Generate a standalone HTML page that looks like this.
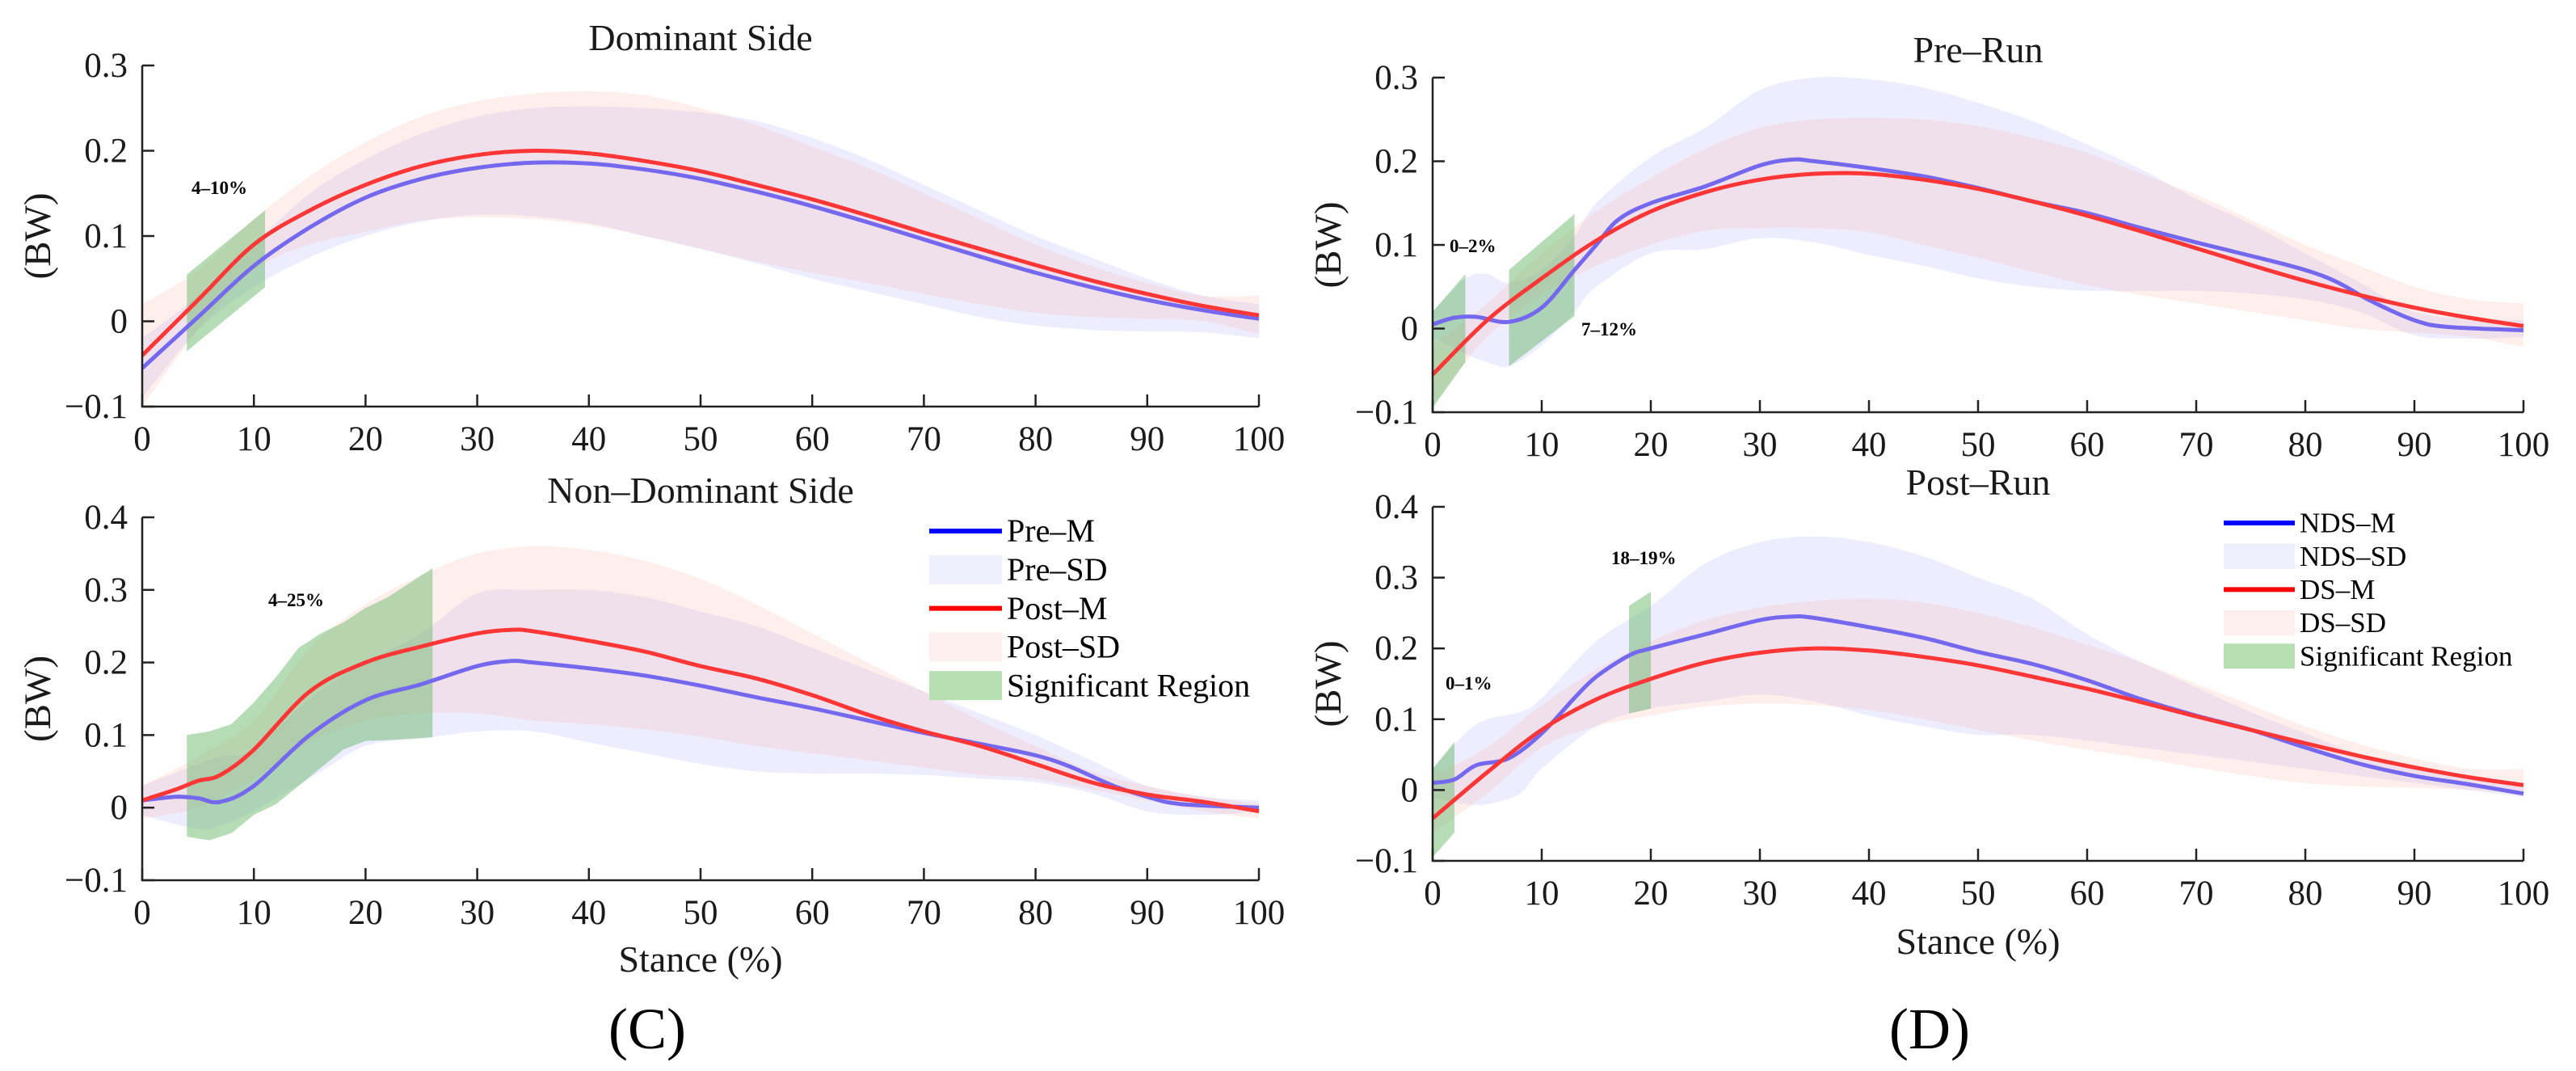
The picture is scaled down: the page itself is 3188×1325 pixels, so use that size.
<!DOCTYPE html>
<html><head><meta charset="utf-8"><style>
html,body{margin:0;padding:0;background:#fff;overflow:hidden;}
svg{display:block;font-family:"Liberation Serif",serif;}
svg text{font-family:"Liberation Serif",serif;}
</style></head><body>
<svg id="fig" width="3188" height="1325" viewBox="0 0 3188 1325" font-family="Liberation Serif, serif"></svg>
<script>
// ---------- shared ----------
const xTicks=[0,10,20,30,40,50,60,70,80,90,100];
const xTickLabels=["0","10","20","30","40","50","60","70","80","90","100"];
const yTicks3=[-0.1,0,0.1,0.2,0.3];
const yTickLabels3=["\u22120.1","0","0.1","0.2","0.3"];
const yTicks4=[-0.1,0,0.1,0.2,0.3,0.4];
const yTickLabels4=["\u22120.1","0","0.1","0.2","0.3","0.4"];

// ---------- C top: Dominant Side ----------
const cT_preX=[0,5,10,15,20,25,30,35,40,45,50,55,60,65,70,75,80,85,90,95,100];
const cT_preM=[-0.055,0.005,0.065,0.11,0.145,0.167,0.18,0.186,0.185,0.178,0.167,0.152,0.135,0.116,0.096,0.076,0.057,0.04,0.025,0.013,0.003];
const cT_postM=[-0.04,0.025,0.09,0.13,0.16,0.182,0.195,0.2,0.197,0.188,0.176,0.16,0.143,0.124,0.104,0.085,0.066,0.048,0.032,0.018,0.007];
const cT_preLo=[-0.09,-0.01,0.04,0.075,0.1,0.117,0.125,0.123,0.115,0.1,0.085,0.068,0.05,0.035,0.02,0.005,-0.005,-0.01,-0.012,-0.013,-0.02];
const cT_preHi=[-0.02,0.03,0.09,0.15,0.19,0.22,0.24,0.25,0.252,0.25,0.245,0.235,0.215,0.19,0.16,0.13,0.1,0.075,0.05,0.03,0.02];
const cT_postLo=[-0.1,-0.01,0.06,0.09,0.105,0.118,0.122,0.12,0.113,0.1,0.085,0.07,0.057,0.045,0.032,0.02,0.01,0.005,0.003,0,-0.015];
const cT_postHi=[0.02,0.06,0.12,0.17,0.21,0.24,0.258,0.267,0.27,0.265,0.25,0.23,0.205,0.18,0.15,0.12,0.09,0.065,0.045,0.03,0.03];
const cT_sigX=[[4,11]];const cT_sigLo=[[-0.035,0.04]];const cT_sigHi=[[0.055,0.13]];

// ---------- C bottom: Non-Dominant Side ----------
const cB_preX=[0,3,5,7,10,15,20,25,30,33,35,40,45,50,55,60,65,70,75,80,83,87,90,93,100];
const cB_preM=[0.01,0.015,0.013,0.008,0.03,0.1,0.148,0.17,0.195,0.202,0.2,0.192,0.182,0.168,0.152,0.137,0.12,0.103,0.088,0.072,0.057,0.03,0.015,0.005,0];
const cB_postX=[0,3,5,7,10,15,20,25,30,33,35,40,45,50,55,60,65,70,75,80,85,90,95,100];
const cB_postM=[0.01,0.025,0.037,0.045,0.08,0.16,0.2,0.222,0.24,0.245,0.243,0.23,0.215,0.195,0.178,0.155,0.128,0.105,0.085,0.06,0.035,0.018,0.008,-0.005];
const cB_preBX=[0,5,7,10,15,20,25,30,35,40,45,50,55,60,65,70,75,80,85,90,95,100];
const cB_preLo=[-0.01,-0.03,-0.025,-0.005,0.04,0.085,0.095,0.105,0.105,0.09,0.075,0.06,0.05,0.047,0.047,0.045,0.04,0.035,0.02,-0.005,-0.01,-0.005];
const cB_preHi=[0.03,0.06,0.07,0.08,0.15,0.2,0.24,0.295,0.3,0.3,0.29,0.27,0.25,0.22,0.19,0.16,0.13,0.1,0.065,0.03,0.015,0.01];
const cB_postBX=[0,5,10,15,20,25,30,35,40,45,50,55,60,65,70,75,80,85,90,95,100];
const cB_postLo=[-0.015,0,0.04,0.09,0.12,0.13,0.13,0.12,0.115,0.108,0.098,0.085,0.075,0.065,0.055,0.045,0.04,0.025,0.01,-0.005,-0.015];
const cB_postHi=[0.03,0.07,0.12,0.22,0.28,0.32,0.35,0.36,0.355,0.34,0.315,0.28,0.24,0.2,0.16,0.12,0.085,0.05,0.03,0.015,0.005];
const cB_sigX=[[4,6,8,10,12,14,16,18,20,22,24,26]];
const cB_sigHi=[[0.1,0.105,0.115,0.145,0.18,0.22,0.24,0.255,0.275,0.29,0.31,0.33]];
const cB_sigLo=[[-0.04,-0.045,-0.035,-0.01,0.005,0.03,0.055,0.08,0.092,0.093,0.095,0.097]];

// ---------- D top: Pre-Run ----------
const dT_ndsX=[0,2,4,7,10,13,15,17,20,25,30,33,35,40,45,50,55,60,65,70,75,80,83,86,90,93,100];
const dT_ndsM=[0.005,0.013,0.014,0.008,0.025,0.07,0.1,0.13,0.15,0.17,0.195,0.202,0.2,0.192,0.182,0.168,0.152,0.138,0.12,0.103,0.087,0.07,0.055,0.033,0.01,0.002,-0.002];
const dT_dsX=[0,5,10,15,20,25,30,35,40,45,50,55,60,65,70,75,80,85,90,95,100];
const dT_dsM=[-0.055,0.01,0.06,0.105,0.14,0.163,0.178,0.185,0.185,0.178,0.167,0.152,0.135,0.116,0.096,0.076,0.057,0.04,0.025,0.013,0.003];
const dT_ndsBX=[0,3,5,7,10,13,15,20,25,30,35,40,45,50,55,60,65,70,75,80,85,90,95,100];
const dT_ndsLo=[-0.01,-0.03,-0.04,-0.045,-0.02,0.02,0.05,0.09,0.095,0.108,0.103,0.088,0.075,0.06,0.05,0.045,0.045,0.045,0.042,0.035,0.02,-0.008,-0.012,-0.01];
const dT_ndsHi=[0.02,0.06,0.065,0.055,0.07,0.11,0.15,0.205,0.24,0.285,0.3,0.298,0.288,0.27,0.248,0.22,0.19,0.155,0.125,0.09,0.055,0.02,0.012,0.01];
const dT_dsLo=[-0.09,-0.01,0.04,0.075,0.1,0.117,0.12,0.12,0.115,0.1,0.085,0.068,0.052,0.04,0.03,0.02,0.01,0,-0.005,-0.01,-0.022];
const dT_dsHi=[-0.02,0.03,0.09,0.14,0.18,0.215,0.24,0.25,0.252,0.25,0.242,0.228,0.21,0.185,0.16,0.13,0.1,0.075,0.05,0.035,0.03];
const dT_sigX=[[0,3],[7,13]];const dT_sigLo=[[-0.095,-0.04],[-0.045,0.015]];const dT_sigHi=[[0.02,0.065],[0.07,0.137]];

// ---------- D bottom: Post-Run ----------
const dB_ndsX=[0,2,4,7,10,13,15,18,20,25,30,33,35,40,45,50,55,60,65,70,75,80,85,90,95,100];
const dB_ndsM=[0.01,0.015,0.035,0.045,0.08,0.13,0.16,0.19,0.2,0.22,0.24,0.245,0.243,0.23,0.215,0.195,0.178,0.155,0.128,0.105,0.085,0.06,0.037,0.02,0.008,-0.005];
const dB_dsX=[0,5,10,15,20,25,30,35,40,45,50,55,60,65,70,75,80,85,90,95,100];
const dB_dsM=[-0.04,0.025,0.085,0.128,0.157,0.18,0.194,0.2,0.197,0.188,0.176,0.16,0.143,0.124,0.104,0.085,0.066,0.048,0.032,0.018,0.007];
const dB_ndsBX=[0,3,5,8,10,15,20,25,30,35,40,45,50,55,60,65,70,75,80,85,90,95,100];
const dB_ndsLo=[-0.01,-0.02,-0.02,-0.005,0.03,0.09,0.115,0.125,0.135,0.125,0.105,0.09,0.078,0.078,0.07,0.06,0.05,0.04,0.03,0.02,0.01,0,-0.01];
const dB_ndsHi=[0.03,0.08,0.1,0.11,0.13,0.21,0.26,0.32,0.35,0.358,0.35,0.33,0.3,0.27,0.22,0.18,0.145,0.11,0.08,0.05,0.03,0.015,0.005];
const dB_dsLo=[-0.06,-0.005,0.06,0.09,0.105,0.118,0.122,0.12,0.113,0.1,0.085,0.07,0.057,0.045,0.032,0.02,0.01,0.005,0.003,0,-0.005];
const dB_dsHi=[0.02,0.06,0.12,0.17,0.21,0.24,0.258,0.267,0.27,0.265,0.25,0.23,0.205,0.18,0.15,0.12,0.09,0.065,0.045,0.03,0.03];
const dB_sigX=[[0,2],[18,20]];const dB_sigLo=[[-0.095,-0.06],[0.108,0.115]];const dB_sigHi=[[0.03,0.068],[0.26,0.28]];

const NS="http://www.w3.org/2000/svg";
const svg=document.getElementById('fig');
function mk(tag,attrs,parent){const e=document.createElementNS(NS,tag);for(const k in attrs)e.setAttribute(k,attrs[k]);(parent||svg).appendChild(e);return e;}
function smooth(pts){let d="M"+pts[0][0].toFixed(1)+","+pts[0][1].toFixed(1);
 for(let i=0;i<pts.length-1;i++){const p0=pts[i-1]||pts[i],p1=pts[i],p2=pts[i+1],p3=pts[i+2]||p2;
  const c1=[p1[0]+(p2[0]-p0[0])/6,p1[1]+(p2[1]-p0[1])/6],c2=[p2[0]-(p3[0]-p1[0])/6,p2[1]-(p3[1]-p1[1])/6];
  d+="C"+c1[0].toFixed(1)+","+c1[1].toFixed(1)+" "+c2[0].toFixed(1)+","+c2[1].toFixed(1)+" "+p2[0].toFixed(1)+","+p2[1].toFixed(1);}
 return d;}
function text(str,x,y,size,opts,parent){opts=opts||{};const t=mk('text',{x:0,y:0,'font-family':'Liberation Serif, serif','font-size':size,'text-anchor':opts.anchor||'middle','font-weight':opts.bold?'bold':'normal',fill:opts.fill||'#1a1a1a',transform:`translate(${x},${y})`+(opts.rot?` rotate(${opts.rot})`:'')},parent);t.textContent=str;return t;}

const BLUEBAND='rgba(175,175,255,0.22)',REDBAND='rgba(250,185,175,0.24)',GREEN='rgba(110,185,110,0.5)';
const BLUELINE='#7468ee',REDLINE='#ff3636';

function panel(cfg){
 const g=mk('g',{});
 
 
 const X=v=>cfg.x0+(v-0)/100*(cfg.x1-cfg.x0);
 const Y=v=>cfg.y1-(v-(-0.1))/(cfg.ymax+0.1)*(cfg.y1-cfg.y0);
 function band(xs,lo,hi,fill,name){const up=xs.map((x,i)=>[X(x),Y(hi[i])]),dn=xs.map((x,i)=>[X(x),Y(lo[i])]).reverse();
  const d=smooth(up)+"L"+dn[0][0]+","+dn[0][1]+smooth(dn).slice(1).replace(/^[^C]*/,'')+"Z";
  const p=mk('path',{d:d,fill:fill,stroke:'none'},g);}
 band(cfg.aX,cfg.aLo,cfg.aHi,BLUEBAND,'blue-sd-band');
 band(cfg.bX,cfg.bLo,cfg.bHi,REDBAND,'red-sd-band');
 cfg.sigX.forEach((xs,k)=>{const up=xs.map((x,i)=>[X(x),Y(cfg.sigHi[k][i])]),dn=xs.map((x,i)=>[X(x),Y(cfg.sigLo[k][i])]).reverse();
  const pts=up.concat(dn);const p=mk('polygon',{points:pts.map(q=>q.join(',')).join(' '),fill:GREEN},g);
  });
 const lb=mk('path',{d:smooth(cfg.mAX.map((x,i)=>[X(x),Y(cfg.mA[i])])),fill:'none',stroke:BLUELINE,'stroke-width':5,'stroke-linejoin':'round'},g);
 
 const lr=mk('path',{d:smooth(cfg.mBX.map((x,i)=>[X(x),Y(cfg.mB[i])])),fill:'none',stroke:REDLINE,'stroke-width':5,'stroke-linejoin':'round'},g);
 
 const ax=mk('path',{d:`M${cfg.x0},${cfg.y0}V${cfg.y1}H${cfg.x1}`,fill:'none',stroke:'#222','stroke-width':2.5},g);
 
 xTicks.forEach((v,i)=>{mk('line',{x1:X(v),x2:X(v),y1:cfg.y1,y2:cfg.y1-15,stroke:'#222','stroke-width':2.5},g);
  const t=text(xTickLabels[i],X(v),cfg.y1+54,43,{},g);});
 cfg.yt.forEach((v,i)=>{mk('line',{x1:cfg.x0,x2:cfg.x0+15,y1:Y(v),y2:Y(v),stroke:'#222','stroke-width':2.5},g);
  const t=text(cfg.ytl[i],cfg.x0-18,Y(v)+14,43,{anchor:'end'},g);});
 const yt=text('(BW)',cfg.x0-114,(cfg.y0+cfg.y1)/2,47,{rot:-90},g);
 const tt=text(cfg.title,(cfg.x0+cfg.x1)/2,cfg.titleY,46,{},g);
 cfg.notes.forEach(n=>{const t=text(n[0],n[1],n[2],23,{bold:true,anchor:'start',fill:'#000'},g);});
 if(cfg.xlabel){const t=text('Stance (%)',(cfg.x0+cfg.x1)/2,cfg.xlabelY,46,{},g);}
 if(cfg.legend){const L=cfg.legend;const lg=mk('g',{},g);
  L.labels.forEach((lab,i)=>{const y=L.y+i*L.dy;
   if(i==0||i==2){mk('line',{x1:L.x,x2:L.x+L.w,y1:y,y2:y,stroke:i==0?'#0000ff':'#ff0000','stroke-width':6},lg);}
   else{mk('rect',{x:L.x,y:y-L.h/2,width:L.w,height:L.h,fill:i==1?'#eeeefd':(i==3?'#fdefed':'#b6dfb2')},lg);}
   const t=text(lab,L.x+L.w+6,y+L.fs*0.33,L.fs,{anchor:'start',fill:'#000'},lg);});}
}
panel({name:'dominant-side-chart',x0:176,x1:1558,y0:81,y1:503,ymax:0.3,yt:yTicks3,ytl:yTickLabels3,title:'Dominant Side',titleY:62,
 aX:cT_preX,aLo:cT_preLo,aHi:cT_preHi,bX:cT_preX,bLo:cT_postLo,bHi:cT_postHi,mAX:cT_preX,mA:cT_preM,mBX:cT_preX,mB:cT_postM,
 sigX:cT_sigX,sigLo:cT_sigLo,sigHi:cT_sigHi,notes:[['4–10%',237,240]]});
panel({name:'non-dominant-side-chart',x0:176,x1:1558,y0:640,y1:1089,ymax:0.4,yt:yTicks4,ytl:yTickLabels4,title:'Non–Dominant Side',titleY:622,
 aX:cB_preBX,aLo:cB_preLo,aHi:cB_preHi,bX:cB_postBX,bLo:cB_postLo,bHi:cB_postHi,mAX:cB_preX,mA:cB_preM,mBX:cB_postX,mB:cB_postM,
 sigX:cB_sigX,sigLo:cB_sigLo,sigHi:cB_sigHi,notes:[['4–25%',332,750]],xlabel:true,xlabelY:1202,
 legend:{x:1150,w:90,h:36,y:657,dy:47.8,fs:40,labels:['Pre–M','Pre–SD','Post–M','Post–SD','Significant Region']}});
panel({name:'pre-run-chart',x0:1773,x1:3123,y0:96,y1:510,ymax:0.3,yt:yTicks3,ytl:yTickLabels3,title:'Pre–Run',titleY:77,
 aX:dT_ndsBX,aLo:dT_ndsLo,aHi:dT_ndsHi,bX:dT_dsX,bLo:dT_dsLo,bHi:dT_dsHi,mAX:dT_ndsX,mA:dT_ndsM,mBX:dT_dsX,mB:dT_dsM,
 sigX:dT_sigX,sigLo:dT_sigLo,sigHi:dT_sigHi,notes:[['0–2%',1794,312],['7–12%',1957,415]]});
panel({name:'post-run-chart',x0:1773,x1:3123,y0:627,y1:1065,ymax:0.4,yt:yTicks4,ytl:yTickLabels4,title:'Post–Run',titleY:612,
 aX:dB_ndsBX,aLo:dB_ndsLo,aHi:dB_ndsHi,bX:dB_dsX,bLo:dB_dsLo,bHi:dB_dsHi,mAX:dB_ndsX,mA:dB_ndsM,mBX:dB_dsX,mB:dB_dsM,
 sigX:dB_sigX,sigLo:dB_sigLo,sigHi:dB_sigHi,notes:[['18–19%',1994,698],['0–1%',1789,853]],xlabel:true,xlabelY:1180,
 legend:{x:2752,w:88,h:31,y:647,dy:41.2,fs:35,labels:['NDS–M','NDS–SD','DS–M','DS–SD','Significant Region']}});
const pc=text('(C)',801,1297,72,{fill:'#000'});
const pd=text('(D)',2388,1297,72,{fill:'#000'});
</script>
</body></html>
